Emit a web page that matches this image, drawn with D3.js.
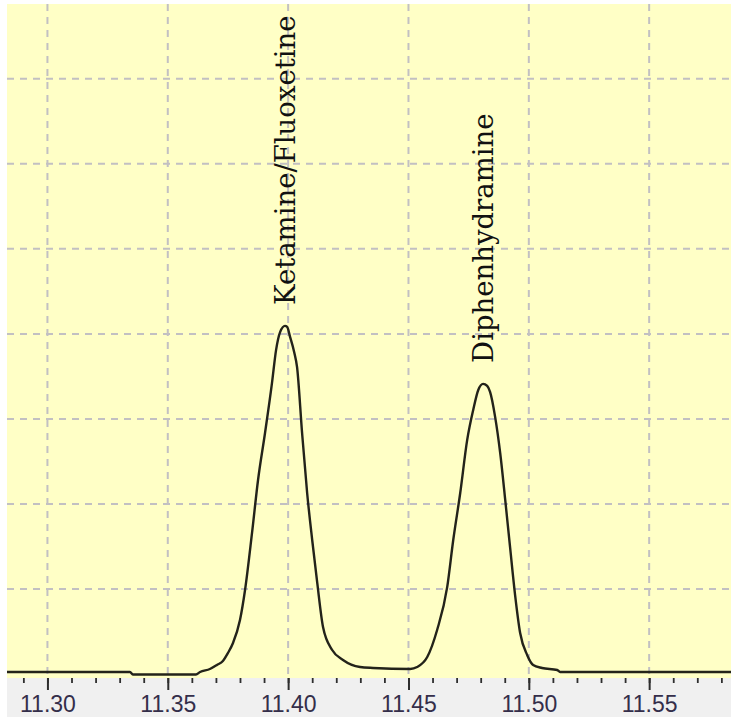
<!DOCTYPE html>
<html>
<head>
<meta charset="utf-8">
<script src="https://cdn.jsdelivr.net/npm/d3@7"></script>
<style>
  html, body { margin: 0; padding: 0; background: #ffffff; }
  svg { display: block; }
</style>
</head>
<body>
<svg id="chart" width="731" height="719"></svg>
<script>
// Retention time (min) of each trace sample
const retentionTime = [
  11.2832, 11.3343, 11.3355, 11.3617, 11.3634, 11.3675, 11.3704, 11.3729,
  11.3750, 11.3771, 11.3800, 11.3821, 11.3850, 11.3875, 11.3904, 11.3933,
  11.3950, 11.3967, 11.3987, 11.3996, 11.4008, 11.4025, 11.4037, 11.4058,
  11.4079, 11.4100, 11.4121, 11.4145, 11.4183, 11.4228, 11.4299, 11.4353,
  11.4507, 11.4536, 11.4578, 11.4619, 11.4661, 11.4686, 11.4715, 11.4744,
  11.4769, 11.4790, 11.4810, 11.4827, 11.4839, 11.4860, 11.4881, 11.4902,
  11.4922, 11.4943, 11.4964, 11.4993, 11.5018, 11.5055, 11.5118, 11.5130,
  11.5840
];

// Detector response (arbitrary units, one grid division = 1)
const intensity = [
  0.024, 0.024, -0.006, -0.006, 0.024, 0.059, 0.106, 0.153,
  0.247, 0.365, 0.635, 0.988, 1.659, 2.282, 2.835, 3.424,
  3.812, 4.024, 4.094, 4.082, 3.965, 3.788, 3.612, 2.835,
  2.129, 1.576, 1.071, 0.553, 0.282, 0.165, 0.082, 0.071,
  0.059, 0.082, 0.200, 0.518, 1.024, 1.576, 2.129, 2.753,
  3.106, 3.341, 3.412, 3.388, 3.318, 3.024, 2.600, 2.047,
  1.494, 0.929, 0.482, 0.224, 0.106, 0.071, 0.047, 0.024,
  0.024
];

// Peak annotations
const peakNames = ["Ketamine/Fluoxetine", "Diphenhydramine"];
const peakTimes = [11.3987, 11.4810];
const peakHeights = [4.094, 3.412];

// Axis ticks
const majorTicks = [11.30, 11.35, 11.40, 11.45, 11.50, 11.55];
const majorTickLabels = ["11.30", "11.35", "11.40", "11.45", "11.50", "11.55"];
const minorTicks = d3.range(11.29, 11.585, 0.01).map(v => +v.toFixed(2));
const gridLevels = [1, 2, 3, 4, 5, 6, 7];

const svg = d3.select("#chart");
const W = 731, H = 719;
const plot = { left: 7, right: 731, top: 4, bottom: 678 };

const x = d3.scaleLinear().domain([11.2832, 11.5840]).range([plot.left, plot.right]);
const y = d3.scaleLinear().domain([-0.047, 7.88]).range([plot.bottom, plot.top]);

// Backgrounds: chart area and axis strip
svg.append("rect").attr("x", 0).attr("y", 0).attr("width", W).attr("height", H).attr("fill", "#ffffff");
svg.append("rect")
  .attr("x", plot.left).attr("y", plot.top)
  .attr("width", plot.right - plot.left).attr("height", plot.bottom - plot.top)
  .attr("fill", "#ffffc6");
svg.append("rect")
  .attr("x", plot.left).attr("y", plot.bottom)
  .attr("width", plot.right - plot.left).attr("height", H - plot.bottom - 2)
  .attr("fill", "#f0f0f0");

svg.append("clipPath").attr("id", "plotClip")
  .append("rect")
  .attr("x", plot.left).attr("y", plot.top)
  .attr("width", plot.right - plot.left).attr("height", plot.bottom - plot.top);

// Dashed grid
const grid = svg.append("g").attr("clip-path", "url(#plotClip)")
  .attr("stroke", "#c2c0c2").attr("stroke-width", 2).attr("stroke-dasharray", "7,6");
grid.selectAll("line.v").data(majorTicks).join("line")
  .attr("class", "v")
  .attr("x1", d => x(d)).attr("x2", d => x(d))
  .attr("y1", plot.top).attr("y2", plot.bottom);
grid.selectAll("line.h").data(gridLevels).join("line")
  .attr("class", "h")
  .attr("x1", plot.left).attr("x2", plot.right)
  .attr("y1", d => y(d)).attr("y2", d => y(d));

// Chromatogram trace
const points = retentionTime.map((t, i) => [t, intensity[i]]);
const line = d3.line()
  .x(d => x(d[0]))
  .y(d => y(d[1]))
  .curve(d3.curveMonotoneX);
svg.append("path")
  .datum(points)
  .attr("clip-path", "url(#plotClip)")
  .attr("d", line)
  .attr("fill", "none")
  .attr("stroke", "#23231a")
  .attr("stroke-width", 2.4)
  .attr("stroke-linejoin", "round");

// Bottom axis: major ticks with labels, minor ticks without
const axisG = svg.append("g").attr("transform", `translate(0,${plot.bottom})`);
const majorAxis = d3.axisBottom(x)
  .tickValues(majorTicks)
  .tickFormat((d, i) => majorTickLabels[i])
  .tickSize(12)
  .tickPadding(6);
axisG.call(majorAxis);
axisG.select(".domain").remove();
axisG.selectAll(".tick line").attr("stroke", "#2e2e2e").attr("stroke-width", 2);
axisG.selectAll(".tick text")
  .attr("fill", "#342e4a")
  .attr("font-family", "'Liberation Sans', Arial, sans-serif")
  .attr("font-size", "23px");

const minorG = svg.append("g").attr("transform", `translate(0,${plot.bottom})`);
minorG.call(d3.axisBottom(x)
  .tickValues(minorTicks.filter(t => x(t) >= plot.left && x(t) <= plot.right))
  .tickFormat("")
  .tickSize(5));
minorG.select(".domain").remove();
minorG.selectAll(".tick line").attr("stroke", "#2e2e2e").attr("stroke-width", 1.8);

// Vertical peak labels
svg.selectAll("text.peak").data(peakNames).join("text")
  .attr("class", "peak")
  .attr("transform", (d, i) => `translate(${x(peakTimes[i]) + 10},${y(peakHeights[i]) - 21}) rotate(-90)`)
  .attr("font-family", "'DejaVu Serif', 'Liberation Serif', serif")
  .attr("font-size", "27.5px")
  .attr("fill", "#111111")
  .text(d => d);
</script>
</body>
</html>
